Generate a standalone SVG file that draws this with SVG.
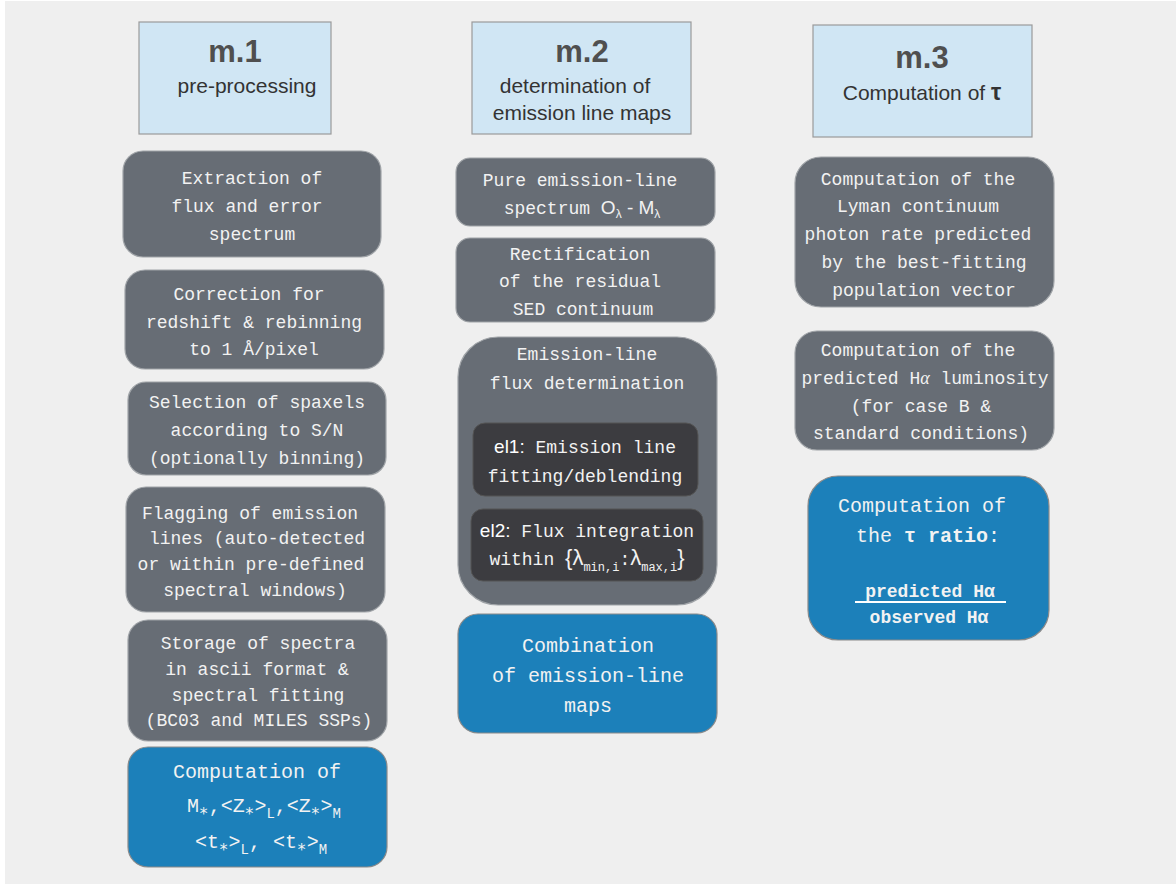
<svg xmlns="http://www.w3.org/2000/svg" width="1176" height="884" viewBox="0 0 1176 884">
<style>
.hdr{fill:#d0e6f4;stroke:#9a9a9a;stroke-width:1.2}
.g{fill:#676d75;stroke:#a0a4a8;stroke-width:1.2}
.d{fill:#3c3c40;stroke:#555;stroke-width:1}
.b{fill:#1c80ba;stroke:#8a8a8a;stroke-width:1.2}
.ht{font-family:"Liberation Sans","DejaVu Sans",sans-serif;fill:#333;text-anchor:middle}
.hn{font-size:31px;fill:#4f4f4f;font-weight:bold}
.hs{font-size:21px}
.t{font-family:"Liberation Mono","DejaVu Sans Mono",monospace;font-size:18px;fill:#f2f2f2;text-anchor:middle}
.s{font-family:"Liberation Sans","DejaVu Sans",sans-serif}
.sub{font-size:12px}
.big{font-size:20px}
.ast{font-size:16px}
</style>
<rect x="0" y="0" width="1176" height="884" fill="#ffffff"/>
<rect x="5" y="1" width="1171" height="883" fill="#efefef"/>

<g id="m1-header">
<rect class="hdr" x="139" y="22" width="192" height="112"/>
<text class="ht hn" x="235" y="62">m.1</text>
<text class="ht hs" x="247" y="93">pre-processing</text>
</g>
<g id="m2-header">
<rect class="hdr" x="472" y="22" width="219" height="112"/>
<text class="ht hn" x="582" y="62">m.2</text>
<text class="ht hs" x="575" y="93">determination of</text>
<text class="ht hs" x="582" y="120">emission line maps</text>
</g>
<g id="m3-header">
<rect class="hdr" x="813" y="25" width="219" height="112"/>
<text class="ht hn" x="922" y="68">m.3</text>
<text class="ht hs" x="922" y="100">Computation of <tspan font-weight="bold" font-size="23">τ</tspan></text>
</g>

<g id="c1-extraction">
<rect class="g" x="123" y="151" width="258" height="106" rx="20"/>
<text class="t" x="252" y="184">Extraction of</text>
<text class="t" x="247" y="212">flux and error</text>
<text class="t" x="252" y="240">spectrum</text>
</g>
<g id="c1-correction">
<rect class="g" x="125" y="270" width="259" height="99" rx="20"/>
<text class="t" x="249" y="300">Correction for</text>
<text class="t" x="254" y="328">redshift &amp; rebinning</text>
<text class="t" x="254" y="355">to 1 Å/pixel</text>
</g>
<g id="c1-selection">
<rect class="g" x="128" y="382" width="258" height="93" rx="18"/>
<text class="t" x="257" y="408">Selection of spaxels</text>
<text class="t" x="257" y="436">according to S/N</text>
<text class="t" x="257" y="464">(optionally binning)</text>
</g>
<g id="c1-flagging">
<rect class="g" x="126" y="487" width="259" height="125" rx="20"/>
<text class="t" x="250" y="519">Flagging of emission</text>
<text class="t" x="257" y="544">lines (auto-detected</text>
<text class="t" x="251" y="570">or within pre-defined</text>
<text class="t" x="255" y="596">spectral windows)</text>
</g>
<g id="c1-storage">
<rect class="g" x="128" y="620" width="259" height="121" rx="20"/>
<text class="t" x="258" y="649">Storage of spectra</text>
<text class="t" x="257" y="675">in ascii format &amp;</text>
<text class="t" x="258" y="701">spectral fitting</text>
<text class="t" x="259" y="726">(BC03 and MILES SSPs)</text>
</g>
<g id="c1-computation">
<rect class="b" x="128" y="747" width="259" height="120" rx="20"/>
<text class="t big" x="257" y="778">Computation of</text>
<text class="t big" x="264" y="812">M<tspan class="ast" dy="4">∗</tspan><tspan dy="-4">,&lt;Z</tspan><tspan class="ast" dy="4">∗</tspan><tspan dy="-4">&gt;</tspan><tspan font-size="14" dy="6">L</tspan><tspan dy="-6">,&lt;Z</tspan><tspan class="ast" dy="4">∗</tspan><tspan dy="-4">&gt;</tspan><tspan font-size="14" dy="6">M</tspan></text>
<text class="t big" x="261" y="848">&lt;t<tspan class="ast" dy="4">∗</tspan><tspan dy="-4">&gt;</tspan><tspan font-size="14" dy="6">L</tspan><tspan dy="-6">,  &lt;t</tspan><tspan class="ast" dy="4">∗</tspan><tspan dy="-4">&gt;</tspan><tspan font-size="14" dy="6">M</tspan></text>
</g>

<g id="c2-pure">
<rect class="g" x="456" y="158" width="259" height="68" rx="14"/>
<text class="t" x="580" y="186">Pure emission-line</text>
<text class="t" x="582" y="214">spectrum <tspan class="s" font-size="19">O</tspan><tspan class="s sub" dy="4">λ</tspan><tspan class="s" font-size="19" dy="-4"> - M</tspan><tspan class="s sub" dy="4">λ</tspan></text>
</g>
<g id="c2-rectification">
<rect class="g" x="456" y="238" width="259" height="84" rx="14"/>
<text class="t" x="580" y="260">Rectification</text>
<text class="t" x="580" y="287">of the residual</text>
<text class="t" x="583" y="315">SED continuum</text>
</g>
<g id="c2-flux">
<rect class="g" x="458" y="337" width="259" height="268" rx="40"/>
<text class="t" x="587" y="360">Emission-line</text>
<text class="t" x="587" y="389">flux determination</text>
<g id="c2-el1">
<rect class="d" x="473" y="423" width="225" height="73" rx="12"/>
<text class="t" x="585" y="453"><tspan class="s" font-size="19" fill="#fff">el1:</tspan> Emission line</text>
<text class="t" x="585" y="482">fitting/deblending</text>
</g>
<g id="c2-el2">
<rect class="d" x="471" y="509" width="232" height="72" rx="12"/>
<text class="t" x="587" y="537"><tspan class="s" font-size="19" fill="#fff">el2:</tspan> Flux integration</text>
<text class="t" x="587" y="565">within <tspan class="s" font-size="22">{λ</tspan><tspan class="sub" dy="6">min,i</tspan><tspan dy="-6">:</tspan><tspan class="s" font-size="22">λ</tspan><tspan class="sub" dy="6">max,i</tspan><tspan class="s" font-size="22" dy="-6">}</tspan></text>
</g>
</g>
<g id="c2-combination">
<rect class="b" x="458" y="614" width="259" height="119" rx="20"/>
<text class="t big" x="588" y="652">Combination</text>
<text class="t big" x="588" y="682">of emission-line</text>
<text class="t big" x="588" y="712">maps</text>
</g>

<g id="c3-lyman">
<rect class="g" x="795" y="157" width="259" height="150" rx="26"/>
<text class="t" x="918" y="185">Computation of the</text>
<text class="t" x="918" y="212">Lyman continuum</text>
<text class="t" x="918" y="240">photon rate predicted</text>
<text class="t" x="924" y="268">by the best-fitting</text>
<text class="t" x="924" y="296">population vector</text>
</g>
<g id="c3-halpha">
<rect class="g" x="795" y="331" width="259" height="119" rx="22"/>
<text class="t" x="918" y="356">Computation of the</text>
<text class="t" x="925" y="384">predicted H<tspan font-family="Liberation Serif,serif" font-style="italic">α</tspan> luminosity</text>
<text class="t" x="921" y="412">(for case B &amp;</text>
<text class="t" x="921" y="439">standard conditions)</text>
</g>
<g id="c3-tau">
<rect class="b" x="808" y="476" width="241" height="164" rx="30"/>
<text class="t big" x="922" y="512">Computation of</text>
<text class="t big" x="928" y="542">the <tspan font-weight="bold">τ ratio</tspan>:</text>
<text class="t" x="930" y="597" font-weight="bold">predicted Hα</text>
<line x1="855" y1="602" x2="1006" y2="602" stroke="#ffffff" stroke-width="2"/>
<text class="t" x="929" y="623" font-weight="bold">observed Hα</text>
</g>
<g id="connectors"></g>
</svg>
